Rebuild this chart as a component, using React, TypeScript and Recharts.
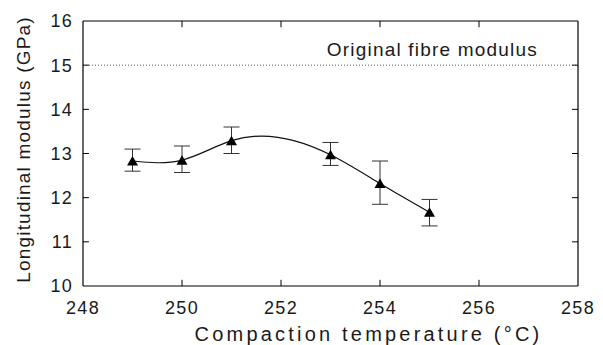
import React from 'react';
import {
  ComposedChart,
  Line,
  XAxis,
  YAxis,
  ReferenceLine,
  ErrorBar,
  Label,
} from 'recharts';

// compaction temperatures (degC)
const temps = [249, 250, 251, 253, 254, 255];
// longitudinal modulus (GPa) and error bar ends
const modulus = [12.83, 12.85, 13.29, 12.97, 12.32, 11.67];
const upper = [13.1, 13.17, 13.6, 13.25, 12.83, 11.96];
const lower = [12.6, 12.57, 13.0, 12.73, 11.85, 11.36];

const xTicks = [248, 250, 252, 254, 256, 258];
const yTicks = [10, 11, 12, 13, 14, 15, 16];
const xDomain: [number, number] = [248, 258];
const yDomain: [number, number] = [10, 16];
const fibreModulus = 15;

const FONT = '"Liberation Sans", Arial, Helvetica, sans-serif';
const INK = '#1a1a1a';

const data = temps.map((t, i) => ({
  temp: t,
  modulus: modulus[i],
  err: [modulus[i] - lower[i], upper[i] - modulus[i]],
}));

// inward tick length, in axis units (about 6px each way)
const xTickLen = 0.12;
const yTickLen = 0.14;

// natural cubic spline in x (the smooth fit drawn through the points)
function splineX(context: any) {
  let xs: number[] = [];
  let ys: number[] = [];
  return {
    areaStart() {},
    areaEnd() {},
    lineStart() {
      xs = [];
      ys = [];
    },
    point(x: number, y: number) {
      xs.push(+x);
      ys.push(+y);
    },
    lineEnd() {
      const n = xs.length;
      if (!n) return;
      context.moveTo(xs[0], ys[0]);
      if (n < 3) {
        if (n === 2) context.lineTo(xs[1], ys[1]);
        return;
      }
      const h: number[] = [];
      for (let i = 0; i < n - 1; i++) h.push(xs[i + 1] - xs[i]);
      const M = new Array(n).fill(0);
      const cp: number[] = [];
      const dp: number[] = [];
      for (let i = 1; i < n - 1; i++) {
        const a = h[i - 1];
        const b = 2 * (h[i - 1] + h[i]);
        const c = h[i];
        const d = 6 * ((ys[i + 1] - ys[i]) / h[i] - (ys[i] - ys[i - 1]) / h[i - 1]);
        const k = i - 1;
        if (k === 0) {
          cp[k] = c / b;
          dp[k] = d / b;
        } else {
          const den = b - a * cp[k - 1];
          cp[k] = c / den;
          dp[k] = (d - a * dp[k - 1]) / den;
        }
      }
      for (let k = n - 3; k >= 0; k--) {
        M[k + 1] = dp[k] - (k < n - 3 ? cp[k] * M[k + 2] : 0);
      }
      const m: number[] = [];
      for (let i = 0; i < n - 1; i++) {
        m[i] = (ys[i + 1] - ys[i]) / h[i] - (h[i] * (2 * M[i] + M[i + 1])) / 6;
      }
      m[n - 1] = (ys[n - 1] - ys[n - 2]) / h[n - 2] + (h[n - 2] * (M[n - 2] + 2 * M[n - 1])) / 6;
      for (let i = 0; i < n - 1; i++) {
        const t = h[i] / 3;
        context.bezierCurveTo(
          xs[i] + t,
          ys[i] + m[i] * t,
          xs[i + 1] - t,
          ys[i + 1] - m[i + 1] * t,
          xs[i + 1],
          ys[i + 1]
        );
      }
    },
  };
}

const Triangle = (props: any) => {
  const { cx, cy } = props;
  if (cx == null || cy == null) return null;
  return (
    <polygon
      points={`${cx - 5.5},${cy + 4.5} ${cx + 5.5},${cy + 4.5} ${cx},${cy - 5}`}
      fill="#000"
    />
  );
};

const tickStyle = { fill: INK, fontSize: 18, fontFamily: FONT, letterSpacing: 1.3 };
const frame = { stroke: '#000', strokeWidth: 1.2 };

export default function App() {
  const [x0, x1] = xDomain;
  const [y0, y1] = yDomain;
  const innerX = xTicks.slice(1, -1);
  const innerY = yTicks.slice(1, -1);

  return (
    <div style={{ position: 'absolute', left: 0, top: 0, background: '#fff', fontFamily: FONT }}>
      <ComposedChart
        width={603}
        height={345}
        data={data}
        margin={{ top: 21, right: 25, bottom: 0, left: 0 }}
      >
        <XAxis
          dataKey="temp"
          type="number"
          domain={xDomain}
          ticks={xTicks}
          tickSize={0}
          tickMargin={15}
          height={59}
          tick={tickStyle}
          axisLine={frame}
          tickLine={false}
        >
          <Label
            content={({ viewBox }: any) => (
              <text
                x={viewBox.x + viewBox.width / 2 + 38}
                y={viewBox.y + 55}
                textAnchor="middle"
                fill={INK}
                fontSize={20}
                fontFamily={FONT}
                letterSpacing={3.2}
              >
                Compaction temperature (°C)
              </text>
            )}
          />
        </XAxis>
        <YAxis
          type="number"
          domain={yDomain}
          ticks={yTicks}
          tickSize={0}
          tickMargin={10}
          width={83}
          tick={tickStyle}
          axisLine={frame}
          tickLine={false}
        >
          <Label
            content={({ viewBox }: any) => {
              const cx = 23;
              const cy = viewBox.y + viewBox.height / 2 - 4;
              return (
                <text
                  x={cx}
                  y={cy}
                  transform={`rotate(-90 ${cx} ${cy})`}
                  textAnchor="middle"
                  dominantBaseline="central"
                  fill={INK}
                  fontSize={19}
                  fontFamily={FONT}
                  letterSpacing={1.2}
                >
                  Longitudinal modulus (GPa)
                </text>
              );
            }}
          />
        </YAxis>

        {/* top and right sides of the frame */}
        <ReferenceLine y={y1} stroke="#000" strokeWidth={1.2} ifOverflow="visible" />
        <ReferenceLine x={x1} stroke="#000" strokeWidth={1.2} ifOverflow="visible" />

        {/* inward tick marks on all four sides */}
        {innerX.map((t) => (
          <ReferenceLine
            key={`xb${t}`}
            segment={[{ x: t, y: y0 }, { x: t, y: y0 + yTickLen }]}
            stroke="#000"
            ifOverflow="visible"
          />
        ))}
        {innerX.map((t) => (
          <ReferenceLine
            key={`xt${t}`}
            segment={[{ x: t, y: y1 }, { x: t, y: y1 - yTickLen }]}
            stroke="#000"
            ifOverflow="visible"
          />
        ))}
        {innerY.map((v) => (
          <ReferenceLine
            key={`yl${v}`}
            segment={[{ x: x0, y: v }, { x: x0 + xTickLen, y: v }]}
            stroke="#000"
            ifOverflow="visible"
          />
        ))}
        {innerY.map((v) => (
          <ReferenceLine
            key={`yr${v}`}
            segment={[{ x: x1, y: v }, { x: x1 - xTickLen, y: v }]}
            stroke="#000"
            ifOverflow="visible"
          />
        ))}

        <ReferenceLine
          y={fibreModulus}
          stroke="#555"
          strokeDasharray="1 2"
          label={({ viewBox }: any) => (
            <text
              x={viewBox.x + viewBox.width - 40}
              y={viewBox.y - 9}
              textAnchor="end"
              fill={INK}
              fontSize={19}
              fontFamily={FONT}
              letterSpacing={1.2}
            >
              Original fibre modulus
            </text>
          )}
        />
        <Line
          dataKey="modulus"
          type={splineX as any}
          stroke="#111"
          strokeWidth={1.2}
          dot={<Triangle />}
          activeDot={false}
          isAnimationActive={false}
        >
          <ErrorBar dataKey="err" direction="y" width={8} stroke="#333" strokeWidth={1} />
        </Line>
      </ComposedChart>
    </div>
  );
}
